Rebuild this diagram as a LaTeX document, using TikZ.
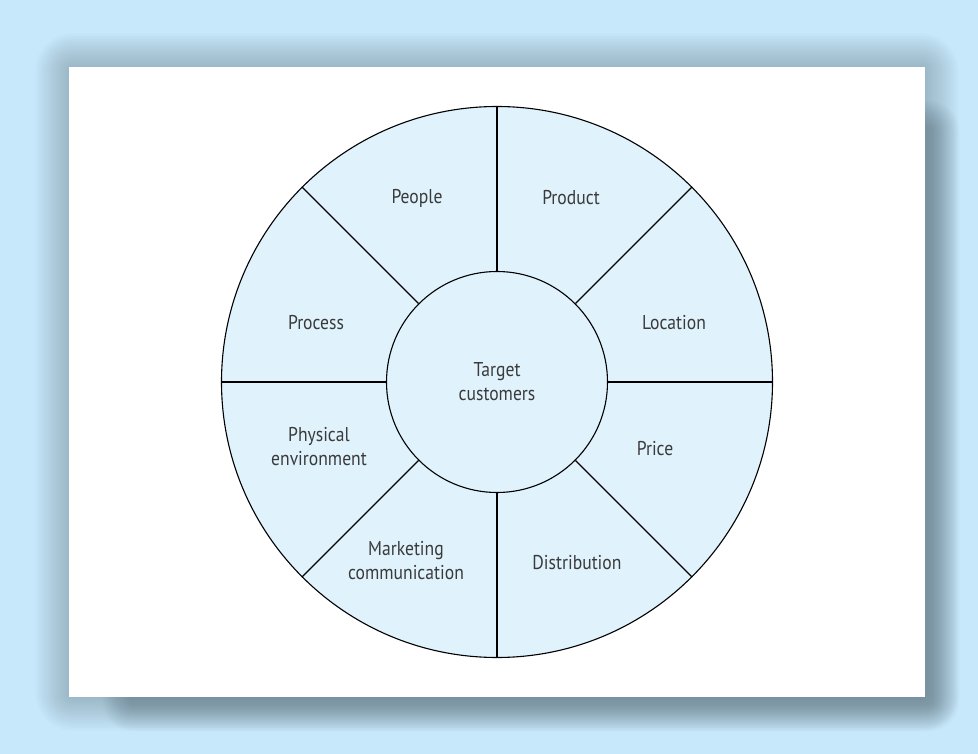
\documentclass[tikz,border=0pt]{standalone}
\usepackage{fontspec}
\setmainfont{PT Sans}[FakeStretch=0.88]
\definecolor{bgblue}{HTML}{C7E8FA}
\definecolor{wheelblue}{HTML}{E0F2FC}
\definecolor{shadowgrey}{RGB}{60,80,90}
\definecolor{labelgrey}{HTML}{3A3A3A}
\begin{document}
\begin{tikzpicture}[x=1pt, y=-1pt, line width=1.1pt,
  ring node/.style={circle,draw,fill=wheelblue,inner sep=0pt},
  sector label/.style={text=labelgrey,align=center,font=\fontsize{20}{24}\selectfont}]
\fill[bgblue] (0,0) rectangle (978,754);
\useasboundingbox (0,0) rectangle (978,754);
% soft halo round the panel
\foreach \k in {1,...,14} {
  \pgfmathsetmacro{\d}{36*(1-\k/14)}
  \pgfmathsetmacro{\r}{\d+4}
  \fill[shadowgrey, opacity=0.022, rounded corners=\r pt] (69-\d,67-\d) rectangle (925+\d,697+\d);
}
% darker cast to the lower right
\foreach \k in {1,...,16} {
  \pgfmathsetmacro{\d}{28*(1-\k/16)}
  \pgfmathsetmacro{\r}{\d+4}
  \fill[shadowgrey, opacity=0.024, rounded corners=\r pt] (129-\d,127-\d) rectangle (933+\d,705+\d);
}
\fill[white] (69,67) rectangle (925,697);
% wheel
\node[ring node, minimum size=551pt] (wheel) at (497,382) {};
\node[ring node, sector label, minimum size=221pt] (hub) at (497,382) {Target\\customers};
\foreach \a in {0,45,...,315}
  \draw (hub.\a) -- (wheel.\a);
\begin{scope}[every node/.style={sector label}]
\node (people) at (417,198) {People};
\node (product) at (571,198) {Product};
\node (process) at (316,323) {Process};
\node (location) at (674,323) {Location};
\node (physical) at (319,447) {Physical\\environment};
\node (price) at (655,449) {Price};
\node (marketing) at (406,561) {Marketing\\communication};
\node (distribution) at (577,563) {Distribution};
\end{scope}
\end{tikzpicture}
\end{document}
